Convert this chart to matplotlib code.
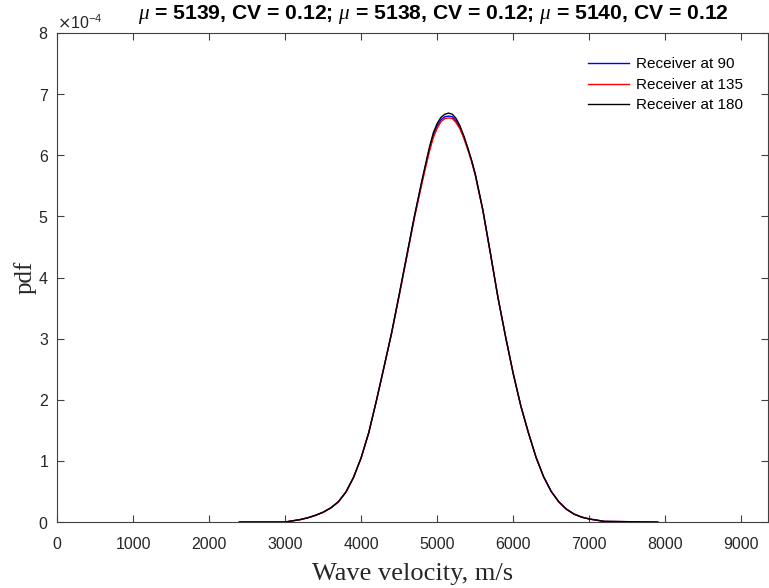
import numpy as np
import matplotlib
matplotlib.use("Agg")
import matplotlib.pyplot as plt

# velocities (m/s) where the curves were read
velocity = [2400, 3000, 3100, 3200, 3300, 3400, 3500, 3600, 3700, 3800, 3900,
            4000, 4100, 4200, 4300, 4400, 4500, 4600, 4700, 4800, 4850, 4900,
            4950, 5000, 5050, 5100, 5150, 5200, 5250, 5300, 5350, 5400, 5450,
            5500, 5600, 5700, 5800, 5900, 6000, 6100, 6200, 6300, 6400, 6500,
            6600, 6700, 6800, 6900, 7000, 7100, 7200, 7900]

# pdf values, x 1e-4
pdf_90 = [0.0, 0.0, 0.02, 0.04, 0.07, 0.11, 0.16, 0.23, 0.33, 0.49, 0.73,
          1.05, 1.46, 1.98, 2.53, 3.09, 3.71, 4.35, 4.99, 5.57, 5.84, 6.11,
          6.33, 6.48, 6.58, 6.63, 6.64, 6.63, 6.56, 6.45, 6.30, 6.12, 5.92,
          5.69, 5.11, 4.40, 3.67, 3.03, 2.43, 1.90, 1.46, 1.06, 0.74, 0.50,
          0.33, 0.21, 0.13, 0.08, 0.05, 0.03, 0.01, 0.0]
pdf_135 = [0.0, 0.0, 0.02, 0.04, 0.07, 0.11, 0.16, 0.23, 0.33, 0.49, 0.73,
           1.05, 1.46, 1.98, 2.53, 3.08, 3.70, 4.33, 4.97, 5.54, 5.81, 6.07,
           6.29, 6.44, 6.55, 6.60, 6.61, 6.60, 6.53, 6.43, 6.28, 6.10, 5.91,
           5.68, 5.10, 4.39, 3.67, 3.03, 2.43, 1.90, 1.46, 1.06, 0.74, 0.50,
           0.33, 0.21, 0.13, 0.08, 0.05, 0.03, 0.01, 0.0]
pdf_180 = [0.0, 0.0, 0.02, 0.04, 0.07, 0.11, 0.16, 0.23, 0.33, 0.49, 0.73,
           1.05, 1.46, 1.98, 2.53, 3.09, 3.72, 4.36, 5.00, 5.59, 5.87, 6.14,
           6.37, 6.52, 6.62, 6.67, 6.69, 6.67, 6.60, 6.48, 6.32, 6.13, 5.93,
           5.70, 5.11, 4.40, 3.67, 3.03, 2.43, 1.90, 1.46, 1.06, 0.74, 0.50,
           0.33, 0.21, 0.13, 0.08, 0.05, 0.03, 0.01, 0.0]

labels = ["Receiver at 90", "Receiver at 135", "Receiver at 180"]
colors = ["#0000ff", "#ff0000", "#000000"]
title = (r"$\mu$ = 5139, CV = 0.12; $\mu$ = 5138, CV = 0.12; "
         r"$\mu$ = 5140, CV = 0.12")

plt.rcParams["font.family"] = ["Liberation Sans", "DejaVu Sans"]
plt.rcParams["mathtext.fontset"] = "custom"
plt.rcParams["mathtext.it"] = "Liberation Serif:italic"

fig = plt.figure(figsize=(7.69, 5.88), dpi=100)
ax = fig.add_axes([0.0741, 0.1122, 0.9245, 0.8317])

x = np.array(velocity)
for y, lab, c in zip([pdf_90, pdf_135, pdf_180], labels, colors):
    ax.plot(x, np.array(y) * 1e-4, color=c, lw=1.0, label=lab)

ax.set_xlim(0, 9350)
ax.set_ylim(0, 8e-4)
ax.set_xticks(np.arange(0, 9001, 1000))
ax.set_yticks(np.arange(0, 8.1e-4, 1e-4))
ax.ticklabel_format(axis="y", style="sci", scilimits=(0, 0), useMathText=True)
off = ax.yaxis.get_offset_text()
off.set_fontsize(11.5)
off.set_color("#404040")

for s in ax.spines.values():
    s.set_color("#404040")
    s.set_linewidth(0.8)
ax.tick_params(direction="in", length=5, width=0.8, colors="#404040",
               labelsize=11.5, top=True, right=True, labelcolor="#262626")
ax.tick_params(axis="x", pad=11)
ax.tick_params(axis="y", pad=6)

ax.set_xlabel("Wave velocity, m/s", family="Liberation Serif", fontsize=19,
              color="#262626", labelpad=8)
ax.set_ylabel("pdf", family="Liberation Serif", fontsize=18,
              color="#262626", labelpad=1)
ax.set_title(title, fontsize=15.2, fontweight="bold", pad=10, x=0.53)

ax.legend(loc="upper right", frameon=False, fontsize=11, handlelength=2.7,
          handletextpad=0.5, labelspacing=0.42, borderaxespad=1.2)

fig.savefig("out.png", dpi=100)
